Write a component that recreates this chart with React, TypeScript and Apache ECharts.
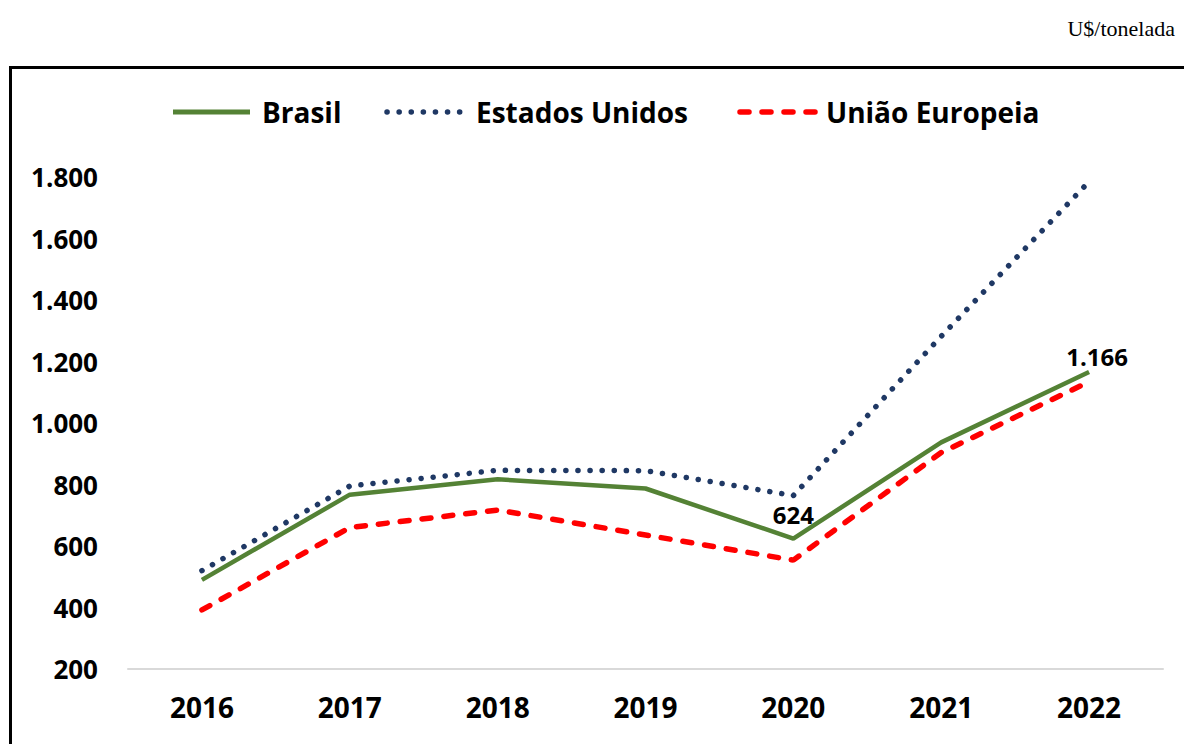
import React, { useEffect, useRef } from "react";
import * as echarts from "echarts";

const years = ["2016", "2017", "2018", "2019", "2020", "2021", "2022"];
const brasil = [490, 767, 817, 787, 624, 937, 1166];
const estadosUnidos = [520, 795, 846, 845, 764, 1282, 1785];
const uniaoEuropeia = [392, 660, 717, 636, 554, 904, 1134];
const seriesNames = ["Brasil", "Estados Unidos", "União Europeia"];
const labeledBrasil = [4, 6];

const fmt = (v: number) => String(Math.round(v)).replace(/\B(?=(\d{3})+(?!\d))/g, ".");

export default function App() {
  const ref = useRef<HTMLDivElement>(null);
  useEffect(() => {
    if (!ref.current) return;
    const chart = echarts.init(ref.current, undefined, { renderer: "svg" });
    const font = "'Open Sans', 'Noto Sans', sans-serif";
    const green = "#548235";
    const navy = "#1f3864";
    const red = "#ff0000";
    const brasilData = brasil.map((v, i) =>
      labeledBrasil.includes(i)
        ? {
            value: v,
            label: {
              show: true,
              position: "top",
              distance: i === 4 ? 12 : 3,
              offset: i === 6 ? [8, 0] : [0, 0],
              formatter: (p: any) => fmt(p.value),
              color: "#000",
              fontFamily: font,
              fontWeight: "bold",
              fontSize: 24,
            },
          }
        : v
    );
    const legendY = 112;
    const legendItems = [
      { x1: 173, x2: 250, tx: 262, color: green, dash: null as any, cap: "butt", w: 5 },
      { x1: 387, x2: 460, tx: 476, color: navy, dash: [0.1, 12], cap: "round", w: 5.5 },
      { x1: 740, x2: 818, tx: 826, color: red, dash: [9, 13], cap: "round", w: 5.5 },
    ];
    const legendGraphics: any[] = [];
    legendItems.forEach((it, i) => {
      legendGraphics.push({
        type: "line",
        shape: { x1: it.x1, y1: legendY, x2: it.x2, y2: legendY },
        style: {
          stroke: it.color,
          lineWidth: it.w,
          lineDash: it.dash || undefined,
          lineCap: it.cap,
        },
      });
      legendGraphics.push({
        type: "text",
        x: it.tx,
        y: legendY,
        style: {
          text: seriesNames[i],
          fill: "#000",
          font: `bold 28px ${font}`,
          verticalAlign: "middle",
          align: "left",
        },
      });
    });
    chart.setOption({
      animation: false,
      backgroundColor: "#fff",
      graphic: [
        {
          type: "rect",
          shape: { x: 10.5, y: 67.5, width: 1250, height: 760 },
          style: { fill: "none", stroke: "#000", lineWidth: 3 },
          z: 100,
        },
        {
          type: "text",
          right: 9,
          top: 17,
          style: {
            text: "U$/tonelada",
            fill: "#000",
            font: "22px 'Liberation Serif', 'Times New Roman', serif",
          },
        },
        ...legendGraphics,
      ],
      grid: { left: 128, right: 21, top: 177, bottom: 75, containLabel: false },
      xAxis: {
        type: "category",
        data: years,
        boundaryGap: true,
        axisLine: { show: true, lineStyle: { color: "#d9d9d9", width: 2 } },
        axisTick: { show: false },
        axisLabel: {
          color: "#000",
          fontFamily: font,
          fontWeight: "bold",
          fontSize: 28,
          margin: 24,
        },
      },
      yAxis: {
        type: "value",
        min: 200,
        max: 1800,
        interval: 200,
        axisLine: { show: false },
        axisTick: { show: false },
        splitLine: { show: false },
        axisLabel: {
          color: "#000",
          fontFamily: font,
          fontWeight: "bold",
          fontSize: 26,
          margin: 30,
          formatter: (v: number) => fmt(v),
        },
      },
      series: [
        {
          name: seriesNames[0],
          type: "line",
          data: brasilData,
          symbol: "circle",
          symbolSize: 0.01,
          showSymbol: true,
          z: 3,
          lineStyle: { color: green, width: 4.5 },
          itemStyle: { color: green },
        },
        {
          name: seriesNames[1],
          type: "line",
          data: estadosUnidos,
          symbol: "none",
          z: 2,
          lineStyle: { color: navy, width: 5.5, type: [0.1, 12], cap: "round" },
          itemStyle: { color: navy },
        },
        {
          name: seriesNames[2],
          type: "line",
          data: uniaoEuropeia,
          symbol: "none",
          z: 2,
          lineStyle: { color: red, width: 5.5, type: [9, 13], cap: "round" },
          itemStyle: { color: red },
        },
      ],
    });
    return () => chart.dispose();
  }, []);
  return (
    <div
      ref={ref}
      style={{ position: "fixed", left: 0, top: 0, width: 1184, height: 744 }}
    />
  );
}
